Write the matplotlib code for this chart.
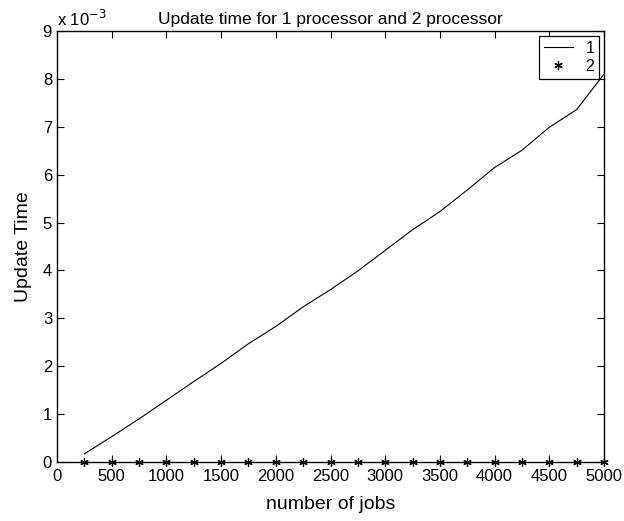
import matplotlib
matplotlib.use("Agg")
import matplotlib.pyplot as plt
from matplotlib.ticker import FuncFormatter

plt.rcParams['font.family'] = ['Liberation Sans', 'DejaVu Sans']
plt.rcParams['font.size'] = 12

# number of jobs
jobs = [250, 500, 750, 1000, 1250, 1500, 1750, 2000, 2250, 2500,
        2750, 3000, 3250, 3500, 3750, 4000, 4250, 4500, 4750, 5000]
# update time, 1 processor (seconds)
time_1 = [0.17e-3, 0.53e-3, 0.90e-3, 1.29e-3, 1.68e-3, 2.06e-3, 2.47e-3, 2.83e-3, 3.24e-3, 3.60e-3,
          3.99e-3, 4.42e-3, 4.85e-3, 5.23e-3, 5.68e-3, 6.15e-3, 6.51e-3, 6.99e-3, 7.36e-3, 8.10e-3]
# update time, 2 processors (seconds)
time_2 = [0.0] * 20

fig = plt.figure(figsize=(6.24, 5.21), dpi=100)
ax = fig.add_axes([0.0913, 0.1132, 0.8767, 0.8273])

ax.plot(jobs, time_1, '-', color='black', linewidth=0.8, label='1')
ax.plot(jobs, time_2, marker=(6, 2, 0), color='black', markersize=6, markeredgewidth=0.9,
        linestyle='none', label='2', clip_on=False)

ax.set_xlim(0, 5000)
ax.set_ylim(0, 9e-3)
ax.set_xticks(range(0, 5001, 500))
ax.set_yticks([i * 1e-3 for i in range(10)])
ax.yaxis.set_major_formatter(FuncFormatter(lambda v, p: '%d' % round(v / 1e-3)))
ax.tick_params(direction='in', top=True, right=True, length=5, width=0.8, labelsize=12)
ax.tick_params(axis='x', pad=5)
for s in ax.spines.values():
    s.set_linewidth(1.0)

ax.text(0.0, 1.004, r'x 10$^{-3}$', transform=ax.transAxes, fontsize=12, va='bottom', ha='left')
ax.set_title('Update time for 1 processor and 2 processor', fontsize=12.5, pad=5)
ax.set_xlabel('number of jobs', fontsize=14, labelpad=9)
ax.set_ylabel('Update Time', fontsize=14, labelpad=8)

leg = ax.legend(loc='upper right', fancybox=False, framealpha=1, edgecolor='black',
                handlelength=1.8, borderaxespad=0.3, fontsize=11.5, borderpad=0.3,
                labelspacing=0.2)
leg.get_frame().set_linewidth(0.9)

fig.savefig('out.png', dpi=100)
